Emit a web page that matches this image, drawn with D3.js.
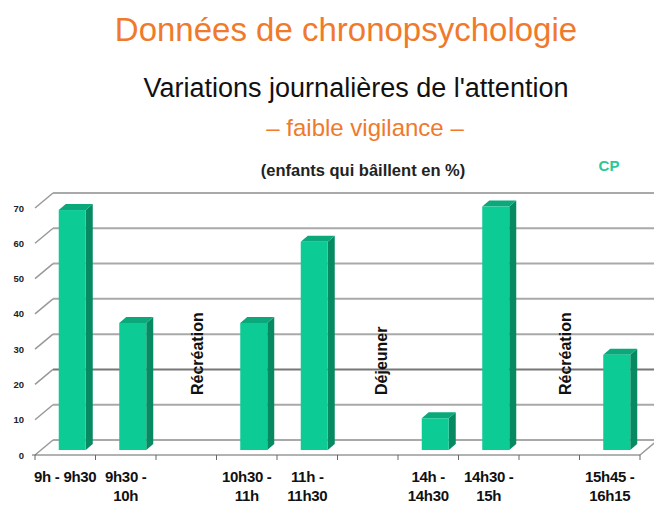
<!DOCTYPE html>
<html><head><meta charset="utf-8">
<script src="https://cdn.jsdelivr.net/npm/d3@7"></script>
<style>html,body{margin:0;padding:0;background:#fff;}svg{display:block;font-family:"Liberation Sans",Arial,sans-serif;}</style>
</head><body>
<svg id="c" width="654" height="508"></svg>
<script>
// ---- data ----
const categories = ["9h - 9h30","9h30 - 10h","pause1","10h30 - 11h","11h - 11h30","pause2","14h - 14h30","14h30 - 15h","pause3","15h45 - 16h15"];
const tickLabels = [["9h - 9h30"],["9h30 -","10h"],[],["10h30 -","11h"],["11h -","11h30"],[],["14h -","14h30"],["14h30 -","15h"],[],["15h45 -","16h15"]];
const values = [68,36,null,36,59,null,9,69,null,27];
const breakCats = ["pause1","pause2","pause3"];
const breakLabels = ["Récréation","Déjeuner","Récréation"];
const yTicks = [0,10,20,30,40,50,60,70];
const seriesName = "CP";

// ---- layout ----
const svg = d3.select("#c");
const x = d3.scaleBand().domain(categories).range([35,640]).padding(0);
const y = d3.scaleLinear().domain([0,70]).range([455,208]);
const wall = {dx:18, dy:-15};
const barOff = {dx:7, dy:-5};
const depth = {dx:7, dy:-6};
const bw = 27;

// titles
svg.append("text").attr("x",346).attr("y",41).attr("text-anchor","middle")
  .attr("font-size",33).attr("fill","#f07a2c").text("Données de chronopsychologie");
svg.append("text").attr("x",356).attr("y",97).attr("text-anchor","middle")
  .attr("font-size",27).attr("fill","#111").text("Variations journalières de l'attention");
svg.append("text").attr("x",365).attr("y",136).attr("text-anchor","middle")
  .attr("font-size",24).attr("fill","#f07a2c").text("– faible vigilance –");
svg.append("text").attr("x",363).attr("y",176).attr("text-anchor","middle")
  .attr("font-size",16.5).attr("font-weight","bold").attr("fill","#222").text("(enfants qui bâillent en %)");
svg.append("text").attr("x",609).attr("y",171).attr("text-anchor","middle")
  .attr("font-size",15).attr("font-weight","bold").attr("fill","#2cc896").text(seriesName);

// wall gridlines + side diagonals
const x0 = x.range()[0], x1 = x.range()[1];
const g = svg.append("g");
g.selectAll("line.grid").data(yTicks).join("line").attr("class","grid")
  .attr("x1",x0+wall.dx).attr("x2",x1+wall.dx)
  .attr("y1",d=>y(d)+wall.dy).attr("y2",d=>y(d)+wall.dy)
  .attr("stroke",d=>d===20?"#777":"#a9a9a9").attr("stroke-width",2);
g.selectAll("line.diag").data(yTicks).join("line").attr("class","diag")
  .attr("x1",x0).attr("x2",x0+wall.dx)
  .attr("y1",d=>y(d)).attr("y2",d=>y(d)+wall.dy)
  .attr("stroke","#999").attr("stroke-width",1.5);
g.append("line").attr("x1",x1).attr("x2",x1+wall.dx).attr("y1",y(0)).attr("y2",y(0)+wall.dy)
  .attr("stroke","#999").attr("stroke-width",1.5);

// y labels
svg.selectAll("text.yl").data(yTicks).join("text").attr("class","yl")
  .attr("x",24).attr("y",d=>y(d)+3.5).attr("text-anchor","end")
  .attr("font-size",9.5).attr("font-weight","bold").attr("fill","#222").text(d=>d);

// front x axis
svg.append("line").attr("x1",x0-3).attr("x2",x1).attr("y1",y(0)).attr("y2",y(0)).attr("stroke","#666").attr("stroke-width",1);
const bounds = categories.map(c=>x(c)).concat([x1]);
svg.selectAll("line.tk").data(bounds).join("line").attr("class","tk")
  .attr("x1",d=>d).attr("x2",d=>d).attr("y1",y(0)).attr("y2",y(0)+5).attr("stroke","#666");

// x labels
const xl = svg.selectAll("text.xl").data(categories).join("text").attr("class","xl")
  .attr("text-anchor","middle").attr("font-size",15).attr("font-weight","bold").attr("fill","#111")
  .attr("letter-spacing",-0.3);
xl.each(function(c,i){
  const t = d3.select(this);
  tickLabels[i].forEach((s,k)=>{
    t.append("tspan").attr("x",x(c)+x.bandwidth()/2).attr("y",482+k*19).text(s);
  });
});

// break labels (drawn in the depth of the chart)
svg.selectAll("text.br").data(breakCats).join("text").attr("class","br")
  .attr("transform",(c,i)=>`translate(${x(c)+x.bandwidth()/2+17+i*2.5},395) rotate(-90)`)
  .attr("font-size",16).attr("font-weight","bold").attr("fill","#111")
  .text((c,i)=>breakLabels[i]);

// bars
const bars = categories.map((c,i)=>({c,v:values[i]})).filter(d=>d.v!=null);
const bg = svg.selectAll("g.bar").data(bars).join("g").attr("class","bar");
const fx = d=>x(d.c)+(x.bandwidth()-bw)/2+barOff.dx;
const fy = d=>y(d.v)+barOff.dy;
const by = y(0)+barOff.dy;
bg.append("path").attr("fill","#078a62").attr("d",d=>{
  const l=fx(d)+bw, t=fy(d);
  return `M${l},${t}L${l+depth.dx},${t+depth.dy}L${l+depth.dx},${by+depth.dy}L${l},${by}Z`;});
bg.append("path").attr("fill","#0aa87b").attr("d",d=>{
  const l=fx(d), t=fy(d);
  return `M${l},${t}L${l+depth.dx},${t+depth.dy}L${l+bw+depth.dx},${t+depth.dy}L${l+bw},${t}Z`;});
bg.append("rect").attr("fill","#0ccb95").attr("x",fx).attr("y",fy).attr("width",bw).attr("height",d=>by-fy(d));
</script>
</body></html>
